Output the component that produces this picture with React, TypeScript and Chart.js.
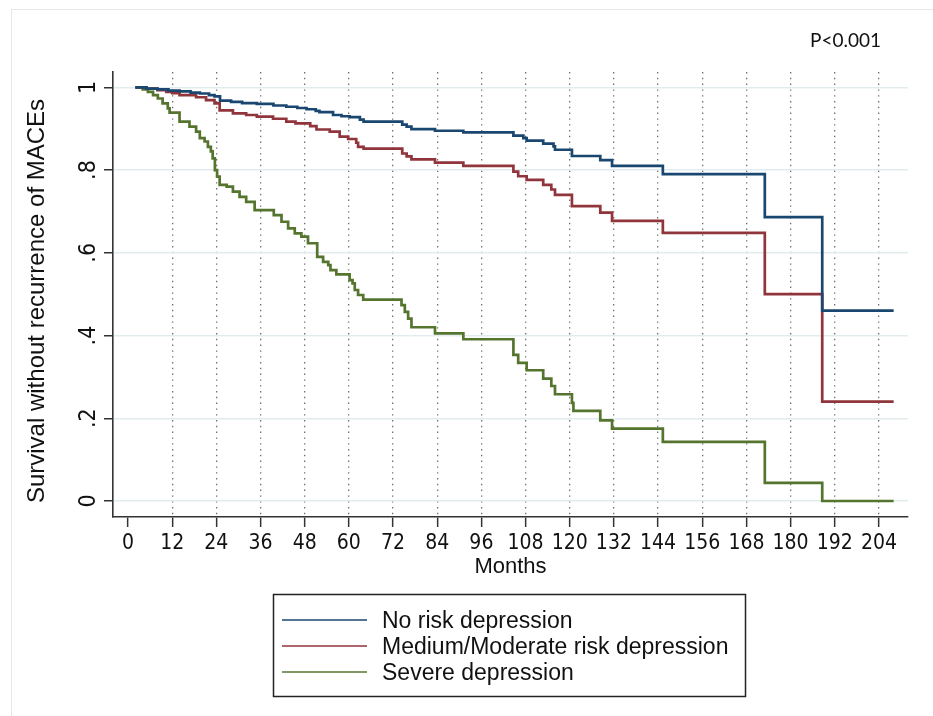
import React, { useEffect, useRef } from "react";
import { Chart, registerables } from "chart.js";

Chart.register(...registerables);

// ---- data ----
const monthTicks = [0, 12, 24, 36, 48, 60, 72, 84, 96, 108, 120, 132, 144, 156, 168, 180, 192, 204];
const survivalTicks = [0, 0.2, 0.4, 0.6, 0.8, 1];
const seriesLabels = ["No risk depression", "Medium/Moderate risk depression", "Severe depression"];
const seriesColors = ["#1a476f", "#90353b", "#55752f"];
const pValueText = "P<0.001";
const xTitle = "Months";
const yTitle = "Survival without recurrence of MACEs";

const noRiskMonths = [2, 5, 8, 11, 14, 17, 19.5, 22, 23.5, 25, 28, 31, 35, 39.5, 43, 46, 48.5, 51, 52, 55.7, 58, 60.2, 63, 64, 74.5, 75.7, 77, 83.4, 91.1, 104.7, 107.4, 108.3, 112.8, 115.6, 116, 120.6, 128.3, 131.5, 145.3, 173, 188.6, 208];
const noRiskSurvival = [1.0, 0.997, 0.995, 0.992, 0.99, 0.987, 0.985, 0.981, 0.978, 0.968, 0.965, 0.962, 0.96, 0.956, 0.953, 0.95, 0.947, 0.943, 0.94, 0.933, 0.93, 0.928, 0.922, 0.917, 0.91, 0.905, 0.899, 0.895, 0.891, 0.883, 0.877, 0.871, 0.864, 0.857, 0.849, 0.834, 0.824, 0.81, 0.79, 0.686, 0.46, 0.46];

const mediumMonths = [2, 5, 8, 10.4, 12, 14, 18.5, 21.2, 23.5, 24.9, 28.5, 32.1, 35, 39.4, 43, 45.5, 49.5, 51.2, 54.8, 57.5, 59.8, 62, 62.5, 64, 74.5, 75.7, 77, 83.4, 91.1, 104.7, 106, 108.3, 112.8, 115, 116, 120.6, 128.3, 131.5, 145.3, 173, 188.6, 208];
const mediumSurvival = [1.0, 0.997, 0.993, 0.989, 0.986, 0.981, 0.976, 0.969, 0.961, 0.944, 0.937, 0.933, 0.929, 0.924, 0.917, 0.913, 0.906, 0.898, 0.893, 0.881, 0.875, 0.866, 0.856, 0.852, 0.84, 0.833, 0.826, 0.818, 0.81, 0.796, 0.785, 0.776, 0.764, 0.753, 0.74, 0.713, 0.697, 0.677, 0.648, 0.5, 0.24, 0.24];

const severeMonths = [2, 4, 5.4, 6.8, 8.1, 9.4, 10.8, 11.3, 14, 16.7, 18.5, 19.5, 20.8, 21.7, 22.5, 23, 23.6, 24.2, 24.9, 26.8, 28.5, 30.3, 32.1, 34.4, 39.6, 41.7, 43.5, 45.3, 47.1, 48.9, 51.4, 53, 54.4, 55, 56.6, 60.2, 61, 61.6, 62.5, 63.9, 74.3, 75.2, 76.1, 77, 83.4, 91.1, 104.7, 106, 108.3, 112.8, 115, 116, 120.6, 121, 128.3, 131.5, 145.3, 173, 188.6, 208];
const severeSurvival = [1.0, 0.995, 0.989, 0.981, 0.973, 0.961, 0.949, 0.939, 0.917, 0.905, 0.893, 0.877, 0.869, 0.856, 0.845, 0.828, 0.8, 0.784, 0.764, 0.76, 0.748, 0.735, 0.723, 0.703, 0.691, 0.675, 0.659, 0.647, 0.639, 0.623, 0.59, 0.578, 0.57, 0.558, 0.548, 0.534, 0.526, 0.51, 0.498, 0.487, 0.4735, 0.457, 0.441, 0.42, 0.405, 0.391, 0.353, 0.334, 0.316, 0.296, 0.278, 0.258, 0.237, 0.218, 0.195, 0.175, 0.143, 0.044, 0.0, 0.0];

const seriesMonths = [noRiskMonths, mediumMonths, severeMonths];
const seriesSurvival = [noRiskSurvival, mediumSurvival, severeSurvival];

const SANS = '"Liberation Sans", Arial, sans-serif';
const NARROW = '"Liberation Sans Narrow", "Arial Narrow", "DejaVu Sans Condensed", sans-serif';

const decorPlugin = {
  id: "decor",
  beforeDraw(chart: any) {
    const ctx = chart.ctx;
    ctx.save();
    ctx.fillStyle = "#ffffff";
    ctx.fillRect(0, 0, chart.width, chart.height);
    ctx.strokeStyle = "#e6e6e6";
    ctx.lineWidth = 1;
    ctx.strokeRect(11.5, 9.5, chart.width + 20, chart.height + 20);
    ctx.restore();
  },
  afterDraw(chart: any) {
    const ctx = chart.ctx;
    ctx.save();
    // y-axis title
    ctx.save();
    ctx.translate(37, 301);
    ctx.rotate(-Math.PI / 2);
    ctx.fillStyle = "#111";
    ctx.font = "24px " + SANS;
    ctx.textAlign = "center";
    ctx.textBaseline = "middle";
    ctx.fillText(yTitle, 0, 0);
    ctx.restore();
    // p-value
    ctx.fillStyle = "#111";
    ctx.font = '19px Lato, "Open Sans", sans-serif';
    ctx.textBaseline = "alphabetic";
    ctx.textAlign = "left";
    ctx.fillText(pValueText, 810, 47);
    // legend box
    const bx = 273.5, by = 594.5, bw = 472, bh = 102;
    ctx.strokeStyle = "#222";
    ctx.lineWidth = 1.5;
    ctx.strokeRect(bx, by, bw, bh);
    ctx.font = "23px " + SANS;
    chart.data.datasets.forEach((ds: any, i: number) => {
      const ly = 620 + i * 26;
      ctx.strokeStyle = ds.borderColor;
      ctx.lineWidth = 1.6;
      ctx.beginPath();
      ctx.moveTo(282, ly);
      ctx.lineTo(367, ly);
      ctx.stroke();
      ctx.fillStyle = "#111";
      ctx.fillText(ds.label, 382, ly + 7.5);
    });
    ctx.restore();
  },
};

export default function App() {
  const canvasRef = useRef<HTMLCanvasElement | null>(null);

  useEffect(() => {
    const canvas = canvasRef.current;
    if (!canvas) return;
    const datasets = seriesLabels.map((label, i) => ({
      label,
      data: seriesMonths[i].map((m, j) => ({ x: m, y: seriesSurvival[i][j] })),
      borderColor: seriesColors[i],
      backgroundColor: seriesColors[i],
      borderWidth: 2.7,
      pointRadius: 0,
      stepped: "before" as const,
      fill: false,
      tension: 0,
    }));

    const chart = new Chart(canvas, {
      type: "line",
      data: { datasets },
      plugins: [decorPlugin],
      options: {
        animation: false,
        responsive: false,
        devicePixelRatio: 1,
        layout: { padding: { left: 0, right: 25, top: 72, bottom: 129 } },
        plugins: { legend: { display: false }, tooltip: { enabled: false } },
        scales: {
          x: {
            type: "linear",
            min: -4.08,
            max: 211.9,
            afterBuildTicks: (scale: any) => {
              scale.ticks = monthTicks.map((v) => ({ value: v }));
            },
            afterFit: (scale: any) => {
              scale.height = 70;
            },
            ticks: {
              autoSkip: false,
              maxRotation: 0,
              minRotation: 0,
              padding: 4,
              color: "#111",
              font: { family: NARROW, size: 21 },
              callback: (v: any) => String(v),
            },
            grid: {
              color: (c: any) => (c.tick && c.tick.value === 0 ? "rgba(0,0,0,0)" : "#6f6f6f"),
              lineWidth: 1.3,
              tickColor: "#333",
              tickLength: 10,
              tickWidth: 1.5,
            },
            border: { display: true, color: "#333", width: 1.6, dash: [1.4, 4.4] },
            title: {
              display: true,
              text: xTitle,
              color: "#111",
              font: { family: SANS, size: 22, lineHeight: 1.2 },
              padding: { top: 0, bottom: 7 },
            },
          },
          y: {
            type: "linear",
            min: -0.0387,
            max: 1.037,
            afterBuildTicks: (scale: any) => {
              scale.ticks = survivalTicks.map((v) => ({ value: v }));
            },
            afterFit: (scale: any) => {
              scale.width = 113;
            },
            ticks: {
              autoSkip: false,
              minRotation: 90,
              maxRotation: 90,
              crossAlign: "center",
              padding: 5,
              color: "#111",
              font: { family: NARROW, size: 23 },
              callback: (v: any) => {
                const n = Number(v);
                if (n === 0) return "0";
                if (n === 1) return "1";
                return "." + Math.round(n * 10);
              },
            },
            grid: {
              color: "#e2ebee",
              lineWidth: 1.5,
              tickColor: "#333",
              tickLength: 9,
              tickWidth: 1.5,
            },
            border: { display: true, color: "#333", width: 1.6 },
            title: { display: false, text: yTitle },
          },
        },
      },
    } as any);

    return () => chart.destroy();
  }, []);

  return (
    <div style={{ position: "fixed", left: 0, top: 0, width: 933, height: 716, background: "#fff" }}>
      <canvas ref={canvasRef} width={933} height={716} style={{ width: 933, height: 716, display: "block" }} />
    </div>
  );
}
